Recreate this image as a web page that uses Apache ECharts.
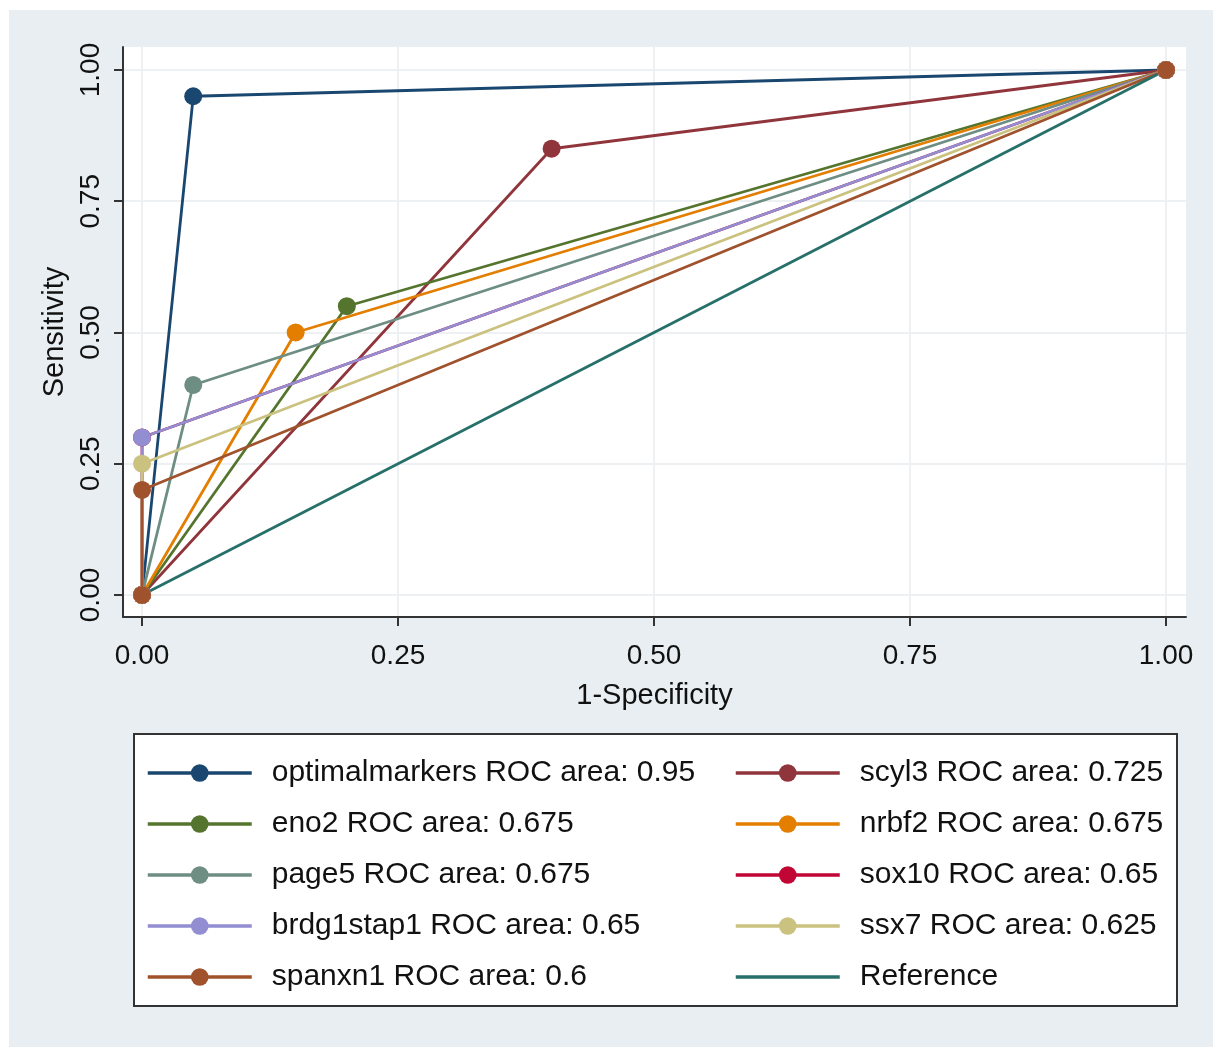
<!DOCTYPE html>
<html>
<head>
    <meta charset="utf-8">
    <title>ROC curves</title>
    <script src="https://cdn.jsdelivr.net/npm/echarts@6/dist/echarts.min.js"></script>
    <style>
        html, body { margin: 0; padding: 0; background: #fff; }
        #main { position: absolute; left: 9px; top: 10px; width: 1204px; height: 1037px; }
    </style>
</head>
<body>
    <div id="main"></div>
    <script type="text/javascript">
    // curve names, in legend order (row by row)
    var names = ['optimalmarkers', 'scyl3', 'eno2', 'nrbf2', 'page5', 'sox10', 'brdg1stap1', 'ssx7', 'spanxn1'];
    var areas = ['0.95', '0.725', '0.675', '0.675', '0.675', '0.65', '0.65', '0.625', '0.6'];
    var colors = ['#1a476f', '#90353b', '#55752f', '#e37e00', '#6e8e84', '#c10534', '#938dd2', '#cac27e', '#a0522d'];
    // 1-specificity and sensitivity per curve
    var fpr = [
        [0, 0.05, 1],
        [0, 0.40, 1],
        [0, 0.20, 1],
        [0, 0.15, 1],
        [0, 0.05, 1],
        [0, 0, 1],
        [0, 0, 1],
        [0, 0, 1],
        [0, 0, 1]
    ];
    var tpr = [
        [0, 0.95, 1],
        [0, 0.85, 1],
        [0, 0.55, 1],
        [0, 0.50, 1],
        [0, 0.40, 1],
        [0, 0.30, 1],
        [0, 0.30, 1],
        [0, 0.25, 1],
        [0, 0.20, 1]
    ];
    var refX = [0, 1];
    var refY = [0, 1];
    var refColor = '#27706a';
    var ticks = [0, 0.25, 0.5, 0.75, 1];

    var chart = echarts.init(document.getElementById('main'));
    var font = 'Liberation Sans, Arial, sans-serif';

    var series = [];
    var legendNames = [];
    for (var i = 0; i < names.length; i++) {
        var label = names[i] + ' ROC area: ' + areas[i];
        legendNames.push(label);
        var pts = [];
        for (var j = 0; j < fpr[i].length; j++) pts.push([fpr[i][j], tpr[i][j]]);
        series.push({
            type: 'line',
            name: label,
            data: pts,
            symbol: 'circle',
            symbolSize: 18,
            showAllSymbol: true,
            animation: false,
            itemStyle: { color: colors[i] },
            lineStyle: { color: colors[i], width: 2.8 }
        });
    }
    var refPts = [];
    for (var k = 0; k < refX.length; k++) refPts.push([refX[k], refY[k]]);
    series.push({
        type: 'line',
        name: 'Reference',
        data: refPts,
        symbol: 'none',
        animation: false,
        itemStyle: { color: refColor },
        lineStyle: { color: refColor, width: 2.8 }
    });
    legendNames.push('Reference');

    var leftCol = [], rightCol = [];
    legendNames.forEach(function (n, idx) {
        var item = n === 'Reference'
            ? { name: n, itemStyle: { color: 'rgba(0,0,0,0)', borderWidth: 0 } }
            : n;
        (idx % 2 === 0 ? leftCol : rightCol).push(item);
    });

    var legendCommon = {
        orient: 'vertical',
        top: 743,
        itemWidth: 104,
        itemHeight: 22,
        itemGap: 21,
        selectedMode: false,
        lineStyle: { width: 3.5 },
        textStyle: { fontFamily: font, fontSize: 30, color: '#111', padding: [0, 0, 0, 15] }
    };

    var option = {
        backgroundColor: '#e8eef1',
        textStyle: { fontFamily: font },
        grid: {
            left: 114, top: 37, right: 27, bottom: 430,
            show: true, backgroundColor: '#fff', borderWidth: 0
        },
        xAxis: {
            type: 'value',
            min: -0.0186, max: 1.0195,
            name: '1-Specificity',
            nameLocation: 'middle',
            nameGap: 64,
            nameTextStyle: { fontSize: 29, color: '#111', fontFamily: font },
            axisLine: { show: true, onZero: false, lineStyle: { color: '#333', width: 2 } },
            axisTick: { show: true, length: 9, customValues: ticks, lineStyle: { color: '#333', width: 2 } },
            axisLabel: { customValues: ticks, fontSize: 28, color: '#111', margin: 25,
                formatter: function (v) { return v.toFixed(2); } },
            splitLine: { show: true, lineStyle: { color: '#edf1f3', width: 2 } }
        },
        yAxis: {
            type: 'value',
            min: -0.042, max: 1.0438,
            name: 'Sensitivity',
            nameLocation: 'middle',
            nameGap: 50,
            nameTextStyle: { fontSize: 29, color: '#111', fontFamily: font },
            axisLine: { show: true, onZero: false, lineStyle: { color: '#333', width: 2 } },
            axisTick: { show: true, length: 9, customValues: ticks, lineStyle: { color: '#333', width: 2 } },
            axisLabel: { customValues: ticks, fontSize: 28, color: '#111', margin: 18, rotate: 90,
                formatter: function (v) { return v.toFixed(2); } },
            splitLine: { show: true, lineStyle: { color: '#edf1f3', width: 2 } }
        },
        legend: [
            Object.assign({}, legendCommon, { left: 132, data: leftCol }),
            Object.assign({}, legendCommon, { left: 720, data: rightCol })
        ],
        graphic: [{
            type: 'rect',
            left: 124, top: 723, z: -1,
            shape: { width: 1043, height: 272 },
            style: { fill: '#fff', stroke: '#333', lineWidth: 2 }
        }],
        series: series
    };

    chart.setOption(option);
    </script>
</body>
</html>
